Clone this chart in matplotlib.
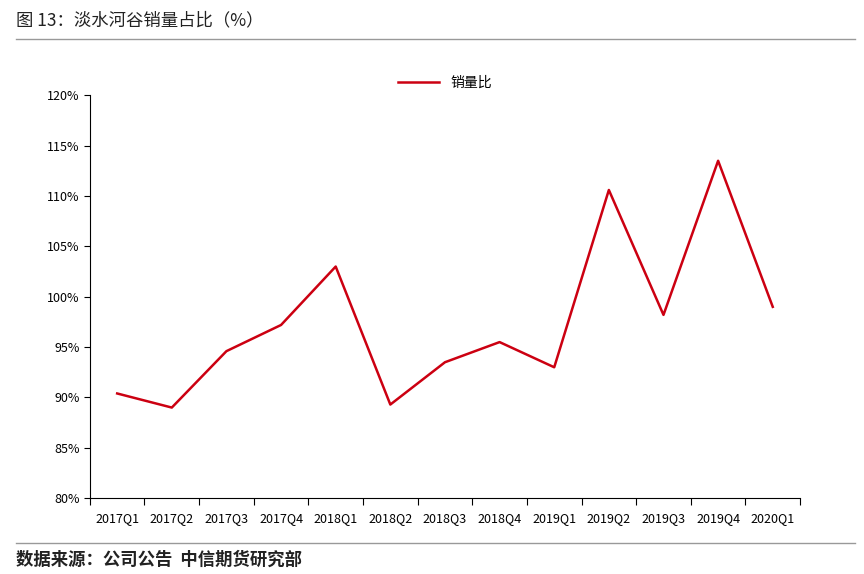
import matplotlib
matplotlib.use("Agg")
import matplotlib.pyplot as plt
from matplotlib.lines import Line2D

plt.rcParams['font.family'] = ['Noto Sans CJK SC', 'DejaVu Sans']

categories = ["2017Q1","2017Q2","2017Q3","2017Q4","2018Q1","2018Q2","2018Q3","2018Q4",
              "2019Q1","2019Q2","2019Q3","2019Q4","2020Q1"]
values = [90.4, 89.0, 94.6, 97.2, 103.0, 89.3, 93.5, 95.5, 93.0, 110.6, 98.2, 113.5, 99.0]
yticks = [80, 85, 90, 95, 100, 105, 110, 115, 120]

fig = plt.figure(figsize=(8.64, 5.74), dpi=100)
ax = fig.add_axes([0.104, 0.132, 0.822, 0.702])
x = list(range(len(categories)))
ax.plot(x, values, color='#CC0011', lw=1.8, label='销量比')
ax.set_xlim(-0.5, len(categories) - 0.5)
ax.set_ylim(80, 120)
ax.set_yticks(yticks)
ax.set_yticklabels([f"{v}%" for v in yticks], fontsize=9)
ax.set_xticks([i + 0.5 for i in range(-1, len(categories))])
ax.set_xticklabels([])
ax.set_xticks(x, minor=True)
ax.set_xticklabels(categories, minor=True, fontsize=9)
ax.tick_params(axis='x', which='minor', length=0, pad=10)
ax.tick_params(axis='x', which='major', length=5, direction='out')
ax.tick_params(axis='y', length=4, direction='out')
for s in ['top', 'right']:
    ax.spines[s].set_visible(False)
ax.legend(loc='upper center', bbox_to_anchor=(0.5, 1.08), frameon=False, fontsize=10,
          handlelength=3)

fig.text(0.018, 0.965, "图 13：淡水河谷销量占比（%）", fontsize=12.5, va='center', color='#222222')
fig.add_artist(Line2D([0.018, 0.99], [0.932, 0.932], color='#999999', lw=1))
fig.add_artist(Line2D([0.018, 0.99], [0.054, 0.054], color='#999999', lw=1))
fig.text(0.018, 0.025, "数据来源：公司公告  中信期货研究部", fontsize=12.5, va='center',
         color='#222222', fontweight='bold')

fig.savefig("out.png", dpi=100)
